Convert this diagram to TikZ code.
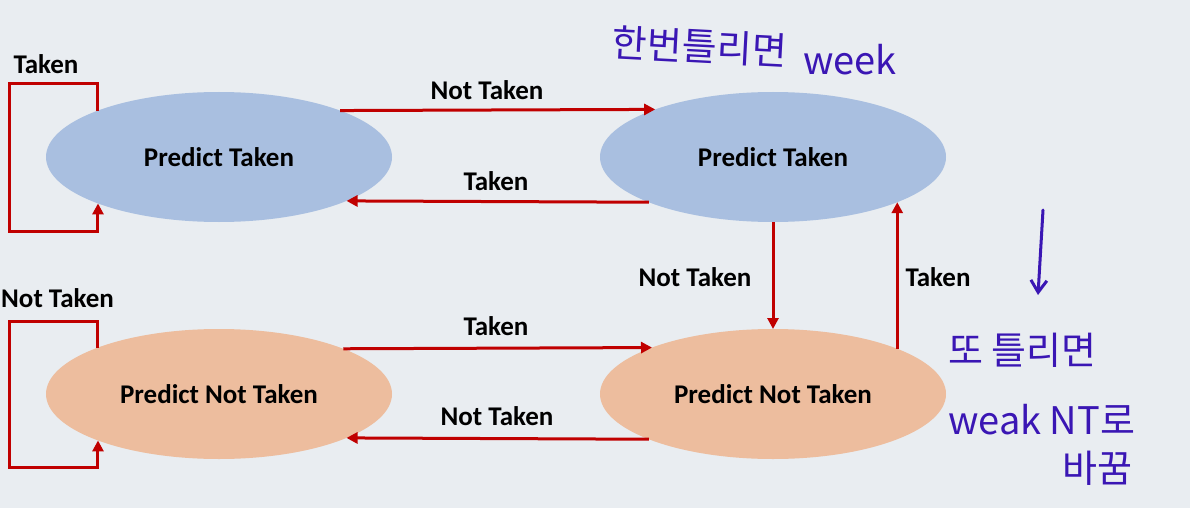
\documentclass[tikz,border=0pt]{standalone}
\usepackage{fontspec}
\setmainfont{Carlito}
\newfontfamily\kr{Noto Sans CJK KR}
\usetikzlibrary{arrows.meta,shapes.geometric}
\definecolor{bgc}{HTML}{E9EDF1}
\definecolor{blueE}{HTML}{A9BFE0}
\definecolor{orangeE}{HTML}{EDBD9E}
\definecolor{arrred}{HTML}{C00000}
\definecolor{pen}{HTML}{3A16B4}
\tikzset{
  state/.style={ellipse, minimum width=346pt, minimum height=130pt, inner sep=0pt, outer sep=0pt,
    font=\fontsize{27}{30}\selectfont\bfseries},
  arr/.style={draw=arrred, line width=3pt, -{Triangle[length=11pt,width=11pt]}},
  lbl/.style={font=\fontsize{27}{30}\selectfont\bfseries, inner sep=0pt},
  hand/.style={text=pen, inner sep=0pt, font=\kr\fontsize{38}{42}\selectfont},
}
\begin{document}
\begin{tikzpicture}[x=1pt,y=-1pt]
\fill[bgc] (0,0) rectangle (1190,508);
\useasboundingbox (0,0) rectangle (1190,508);

\node[state, fill=blueE] (PT1) at (219,157) {Predict Taken};
\node[state, fill=blueE] (PT2) at (773,157) {Predict Taken};
\node[state, fill=orangeE] (NT1) at (219,394) {Predict Not Taken};
\node[state, fill=orangeE] (NT2) at (773,394) {Predict Not Taken};

% horizontal transitions
\draw[arr] (PT1.21.5) -- (PT2.158.5);
\draw[arr] (PT2.-160.2) -- (PT1.-19.8);
\draw[arr] (NT1.20.7) -- (NT2.159.3);
\draw[arr] (NT2.-160.2) -- (NT1.-19.8);
% vertical transitions
\draw[arr] (PT2.south) -- (NT2.north);
\draw[arr] (NT2.20.7) -- (PT2.-20.7);
% self loops
\draw[arr] (PT1.159.3) -- ++(0,-27) -- ++(-88,0) -- ++(0,148) -- ++(88,0) -- (PT1.-159.3);
\draw[arr] (NT1.159.3) -- ++(0,-26) -- ++(-88,0) -- ++(0,146) -- ++(88,0) -- (NT1.-159.3);

% labels
\node[lbl] (l1) at (46,64) {Taken};
\node[lbl, anchor=west] (l2) at (1,298) {Not Taken};
\node[lbl] (l3) at (487,90) {Not Taken};
\node[lbl] (l4) at (496,181) {Taken};
\node[lbl] (l5) at (695,277) {Not Taken};
\node[lbl] (l6) at (938,277) {Taken};
\node[lbl] (l7) at (496,326) {Taken};
\node[lbl] (l8) at (497,416) {Not Taken};

% handwritten notes
\node[hand, anchor=west, rotate=-3] (h1) at (612,42) {한번틀리면};
\node[hand, anchor=west] (h2) at (803,60) {week};
\coordinate (ha) at (1043,210);
\coordinate (hb) at (1038,295);
\draw[pen, line width=3pt, line cap=round, -{Straight Barb[length=12pt,width=16pt]}] (ha) -- (hb);
\node[hand, anchor=west] (h3) at (948,350) {또 틀리면};
\node[hand, anchor=west] (h4) at (948,420) {weak NT로};
\node[hand, anchor=west] (h5) at (1062,468) {바꿈};
\end{tikzpicture}
\end{document}
